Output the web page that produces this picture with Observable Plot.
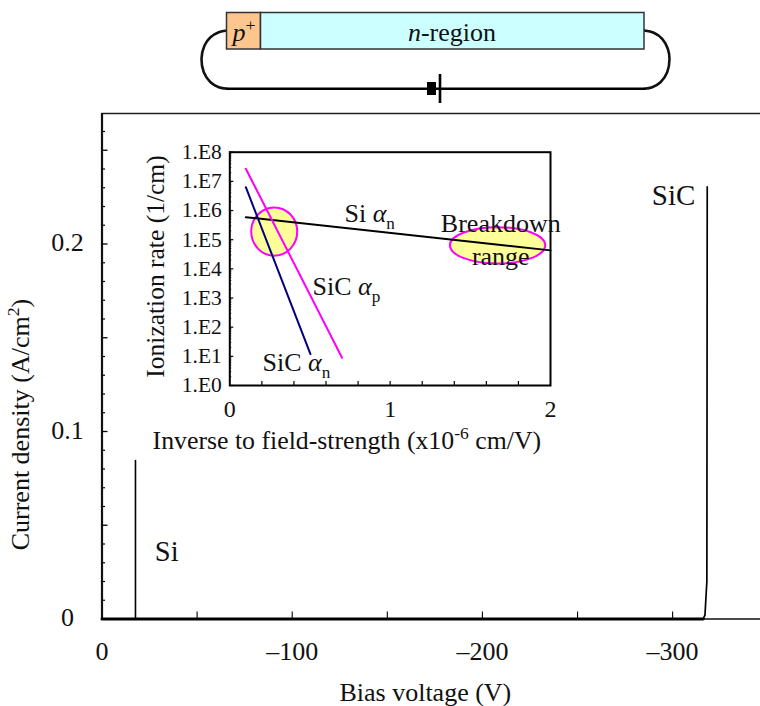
<!DOCTYPE html>
<html><head><meta charset="utf-8">
<style>
html,body{margin:0;padding:0;background:#fff}
#wrap{position:relative;width:760px;height:706px;overflow:hidden;background:#fff}
#wrap>svg{position:absolute;overflow:visible;background:transparent}
</style>
<script src="https://cdn.jsdelivr.net/npm/d3@7"></script>
<script src="https://cdn.jsdelivr.net/npm/@observablehq/plot@0.6"></script>
</head><body><div id="wrap"></div>
<script>
// ---- main chart data
const siVoltage = [0, -17.6, -17.6];
const siCurrent = [0, 0, 0.0845];
const sicVoltage = [0, -316, -317, -318, -318.2];
const sicCurrent = [0, 0, 0.002, 0.02, 0.2305];
const mainMajorTicksY = [0, 0.1, 0.2];
const mainLongTicksY = [0.05, 0.1, 0.15, 0.2, 0.25];
const mainShortTicksY = [0.01,0.02,0.03,0.04,0.06,0.07,0.08,0.09,0.11,0.12,0.13,0.14,0.16,0.17,0.18,0.19,0.21,0.22,0.23,0.24,0.26];
const mainTicksX = [-50,-100,-150,-200,-250,-300];
const mainLabelsX = [0,-100,-200,-300];
// ---- inset data
const siAlphaX = [0.1, 2], siAlphaY = [5.9e5, 4.3e4];
const sicAlphaPX = [0.1, 0.7], sicAlphaPY = [2.7e7, 9];
const sicAlphaNX = [0.1, 0.503], sicAlphaNY = [6.3e6, 12];
const insetDecades = [1,1e1,1e2,1e3,1e4,1e5,1e6,1e7,1e8];
const insetDecadeLabels = ["1.E0","1.E1","1.E2","1.E3","1.E4","1.E5","1.E6","1.E7","1.E8"];
const insetMinor = insetDecades.slice(0,8).flatMap(d => [2,3,4,5,6,7,8,9].map(m => d*m));
const insetTicksX = [0.2,0.4,0.6,0.8,1,1.2,1.4,1.6,1.8];
const insetLabelsX = [0,1,2];

const serif = "'Liberation Serif','Times New Roman',serif";
const BIG = 26, INSET_TICK = 21.5;

// rich text: *italic*, _sub_, ^sup^
function rich(svg){
  d3.select(svg).selectAll("text").each(function(){
    const s = this.textContent;
    if(!/[*_^]/.test(s)) return;
    const parts = s.split(/(\*[^*]+\*|_[^_]+_|\^[^^]+\^)/).filter(p=>p!=="");
    const el = d3.select(this); el.text(null);
    let shift = 0;
    for(const p of parts){
      const t = el.append("tspan");
      const m = p[0];
      let want = 0;
      if(m==="*"){t.text(p.slice(1,-1)).attr("font-style","italic");}
      else if(m==="_"){t.text(p.slice(1,-1)).attr("font-size","0.66em"); want=0.27*BIG;}
      else if(m==="^"){t.text(p.slice(1,-1)).attr("font-size","0.68em"); want=-0.36*BIG;}
      else t.text(p);
      if(want!==shift){t.attr("dy",want-shift); shift=want;}
    }
  });
  return svg;
}
// ellipse symbol with a fixed aspect ratio
const ellipse = aspect => ({draw(ctx,size){
  const rx=Math.sqrt(size/Math.PI), ry=rx*aspect, k=0.5523;
  ctx.moveTo(rx,0);
  ctx.bezierCurveTo(rx,k*ry,k*rx,ry,0,ry);
  ctx.bezierCurveTo(-k*rx,ry,-rx,k*ry,-rx,0);
  ctx.bezierCurveTo(-rx,-k*ry,-k*rx,-ry,0,-ry);
  ctx.bezierCurveTo(k*rx,-ry,rx,-k*ry,rx,0);
  ctx.closePath();
}});

// ---- device schematic (drawn in page-like units)
const wireLeft = [[226.5,30],[218.3,31.7],[210,36.7],[204,45],[201,58.3],[203.3,71.7],[210,81.7],[218.3,86.7],[226.5,88.3]];
const wireRight = [[644,30],[653.3,32.3],[661.7,38.3],[667.3,48.3],[669,58.3],[666.7,71.7],[660,81.7],[651.7,86.7],[644,88.3]];
const wireBottom = [[226.5,88.3],[644,88.3]];
const regions = [
  {x1:226.5,x2:260.5,y1:12.5,y2:49,fill:"#fdc68f"},
  {x1:260.5,x2:644,y1:12.5,y2:49,fill:"#ccffff"}
];
const schematic = Plot.plot({
  width:760,height:105,margin:0,
  x:{domain:[0,760],range:[0,760],axis:null},
  y:{domain:[0,105],range:[0,105],axis:null},
  style:{fontFamily:serif,background:"transparent"},
  marks:[
    Plot.line(wireLeft,{x:"0",y:"1",curve:"catmull-rom",stroke:"#111",strokeWidth:2.6}),
    Plot.line(wireRight,{x:"0",y:"1",curve:"catmull-rom",stroke:"#111",strokeWidth:2.6}),
    Plot.line(wireBottom,{x:"0",y:"1",stroke:"#000",strokeWidth:2.6}),
    Plot.rect(regions,{x1:"x1",x2:"x2",y1:"y1",y2:"y2",fill:"fill",stroke:"#333",strokeWidth:1.5}),
    Plot.rect([0],{x1:[427],x2:[436],y1:[82],y2:[95],fill:"#000"}),
    Plot.ruleX([439.5],{y1:74,y2:103,stroke:"#000",strokeWidth:2.6}),
    Plot.text(["*p*^+^"],{x:[243.5],y:[32],fontSize:BIG,fill:"#111"}),
    Plot.text(["*n*-region"],{x:[451.5],y:[32],fontSize:BIG,fill:"#111"})
  ]
});
rich(schematic);
schematic.style.left="0px";schematic.style.top="0px";

// ---- main chart
const num = (a,b) => a.map((v,i)=>({x:v,y:b[i]}));
const main = Plot.plot({
  width:760,height:601,
  marginLeft:101.5,marginRight:0,marginTop:8,marginBottom:87.5,
  x:{domain:[0,-346.2],axis:null},
  y:{domain:[0,0.2696],axis:null},
  style:{fontFamily:serif,background:"transparent",color:"#111"},
  marks:[
    Plot.ruleY([0],{stroke:"#111",strokeWidth:1.6}),
    Plot.ruleY([0.2696],{stroke:"#222",strokeWidth:1.6}),
    Plot.ruleX([0],{stroke:"#111",strokeWidth:2.2}),
    Plot.tickY(mainLongTicksY,{y:d=>d,insetRight:658.5-6,stroke:"#000",strokeWidth:1.3}),
    Plot.tickY(mainShortTicksY,{y:d=>d,insetRight:658.5-3.5,stroke:"#000",strokeWidth:1.2}),
    Plot.tickX(mainTicksX,{x:d=>d,insetTop:505.5-7,stroke:"#000",strokeWidth:1.1}),
    Plot.line(num(siVoltage,siCurrent),{x:"x",y:"y",stroke:"#000",strokeWidth:1.6}),
    Plot.line(num(sicVoltage,sicCurrent),{x:"x",y:"y",stroke:"#000",strokeWidth:1.7}),
    Plot.line(num([0,-316],[0,0]),{x:"x",y:"y",stroke:"#000",strokeWidth:3}),
    Plot.text(mainMajorTicksY,{y:d=>d,text:d=>d===0?"0":d3.format(".1f")(d),frameAnchor:"left",textAnchor:"middle",dx:-34.5,dy:-1,fontSize:BIG,fill:"#111"}),
    Plot.text(mainLabelsX,{x:d=>d,text:d=>d===0?"0":"–"+(-d),frameAnchor:"bottom",lineAnchor:"middle",dy:33,fontSize:BIG,fill:"#111"}),
    Plot.text(["Bias voltage (V)"],{x:[-170],frameAnchor:"bottom",lineAnchor:"middle",dy:73.5,fontSize:BIG,fill:"#111"}),
    Plot.text(["Current density (A/cm^2^)"],{y:[0.1037],frameAnchor:"left",textAnchor:"middle",dx:-81.5,rotate:-90,fontSize:BIG,fill:"#111"}),
    Plot.text(["SiC"],{x:[-300.5],y:[0.2259],fontSize:29,fill:"#111"}),
    Plot.text(["Si"],{x:[-34],y:[0.036],fontSize:28.5,fill:"#111"})
  ]
});
rich(main);
main.style.left="0px";main.style.top="105px";

// ---- inset chart
const inset = Plot.plot({
  width:430,height:320,
  marginLeft:89.3,marginRight:20,marginTop:11.7,marginBottom:75,
  x:{domain:[0,2],axis:null},
  y:{type:"log",domain:[1,1e8],axis:null},
  style:{fontFamily:serif,background:"transparent",color:"#111"},
  marks:[
    Plot.dot([{x:0.277,y:1.9e5}],{x:"x",y:"y",r:23,symbol:ellipse(1.05),fill:"#ffff99",stroke:"#ff00ff",strokeWidth:2}),
    Plot.dot([{x:1.67,y:6.4e4}],{x:"x",y:"y",r:47.7,symbol:ellipse(0.38),fill:"#ffff99",stroke:"#ff00ff",strokeWidth:2}),
    Plot.frame({stroke:"#000",strokeWidth:2}),
    Plot.tickX(insetTicksX,{x:d=>d,insetTop:233.3-4,stroke:"#000",strokeWidth:1.2}),
    Plot.tickY(insetDecades,{y:d=>d,insetRight:320.7-4,stroke:"#000",strokeWidth:1.2}),
    Plot.tickY(insetMinor,{y:d=>d,insetRight:320.7-2,stroke:"#000",strokeWidth:0.8}),
    Plot.line(num(siAlphaX,siAlphaY),{x:"x",y:"y",stroke:"#000",strokeWidth:2}),
    Plot.line(num(sicAlphaPX,sicAlphaPY),{x:"x",y:"y",stroke:"#ff00ff",strokeWidth:2}),
    Plot.line(num(sicAlphaNX,sicAlphaNY),{x:"x",y:"y",stroke:"#000080",strokeWidth:2}),
    Plot.text(insetDecades,{y:d=>d,text:(d,i)=>insetDecadeLabels[i],frameAnchor:"left",textAnchor:"end",dx:-8,fontSize:INSET_TICK,fill:"#111"}),
    Plot.text(insetLabelsX,{x:d=>d,text:d=>String(d),frameAnchor:"bottom",lineAnchor:"middle",dy:23.5,fontSize:24,fill:"#111"}),
    Plot.text(["Inverse to field-strength (x10^-6^ cm/V)"],{x:[0.73],frameAnchor:"bottom",lineAnchor:"middle",dy:55,fontSize:25.8,fill:"#111"}),
    Plot.text(["Ionization rate (1/cm)"],{y:[1.2e4],frameAnchor:"left",textAnchor:"middle",dx:-74,rotate:-90,fontSize:25.5,fill:"#111"}),
    Plot.text(["Si *α*_n_"],{x:[0.715],y:[8e5],textAnchor:"start",fontSize:BIG,fill:"#111"}),
    Plot.text(["SiC *α*_p_"],{x:[0.516],y:[2.5e3],textAnchor:"start",fontSize:BIG,fill:"#111"}),
    Plot.text(["SiC *α*_n_"],{x:[0.204],y:[6.2],textAnchor:"start",fontSize:BIG,fill:"#111"}),
    Plot.text(["Breakdown"],{x:[1.69],y:[3.6e5],fontSize:BIG,fill:"#111"}),
    Plot.text(["range"],{x:[1.69],y:[2.7e4],fontSize:BIG,fill:"#111"})
  ]
});
rich(inset);
inset.style.left="140px";inset.style.top="140px";

const w=document.getElementById("wrap");
w.append(schematic,main,inset);
</script>
</body></html>
